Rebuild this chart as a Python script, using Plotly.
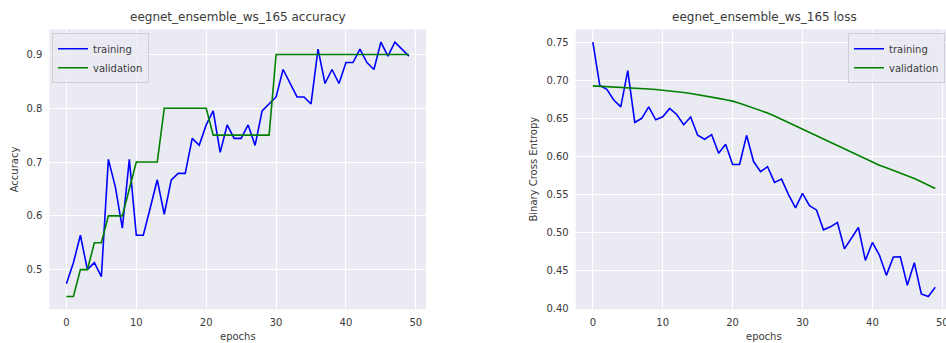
import plotly.graph_objects as go

# ---- training history ------------------------------------------------------
epochs = list(range(50))

train_acc = [
    0.474, 0.513, 0.564, 0.500, 0.513, 0.487, 0.705, 0.654, 0.577, 0.705,
    0.564, 0.564, 0.615, 0.667, 0.603, 0.667, 0.679, 0.679, 0.744, 0.731,
    0.769, 0.795, 0.718, 0.769, 0.744, 0.744, 0.769, 0.731, 0.795, 0.808,
    0.821, 0.872, 0.846, 0.821, 0.821, 0.808, 0.910, 0.846, 0.872, 0.846,
    0.885, 0.885, 0.910, 0.885, 0.872, 0.923, 0.897, 0.923, 0.910, 0.897,
]
val_acc = [
    0.45, 0.45, 0.50, 0.50, 0.55, 0.55, 0.60, 0.60, 0.60, 0.65,
    0.70, 0.70, 0.70, 0.70, 0.80, 0.80, 0.80, 0.80, 0.80, 0.80,
    0.80, 0.75, 0.75, 0.75, 0.75, 0.75, 0.75, 0.75, 0.75, 0.75,
    0.90, 0.90, 0.90, 0.90, 0.90, 0.90, 0.90, 0.90, 0.90, 0.90,
    0.90, 0.90, 0.90, 0.90, 0.90, 0.90, 0.90, 0.90, 0.90, 0.90,
]
train_loss = [
    0.7500, 0.6930, 0.6880, 0.6740, 0.6650, 0.7126, 0.6447, 0.6500, 0.6650, 0.6480,
    0.6520, 0.6630, 0.6550, 0.6416, 0.6517, 0.6277, 0.6225, 0.6286, 0.6042, 0.6160,
    0.5894, 0.5894, 0.6277, 0.5933, 0.5800, 0.5866, 0.5660, 0.5703, 0.5499, 0.5325,
    0.5516, 0.5355, 0.5299, 0.5038, 0.5077, 0.5133, 0.4789, 0.4933, 0.5068, 0.4637,
    0.4872, 0.4707, 0.4441, 0.4681, 0.4685, 0.4311, 0.4607, 0.4198, 0.4163, 0.4285,
]
val_loss = [
    0.6925, 0.6921, 0.6917, 0.6913, 0.6909, 0.6903, 0.6898, 0.6892, 0.6885, 0.6877,
    0.6869, 0.6859, 0.6849, 0.6838, 0.6826, 0.6812, 0.6795, 0.6778, 0.6761, 0.6743,
    0.6725, 0.6697, 0.6667, 0.6636, 0.6604, 0.6570, 0.6529, 0.6486, 0.6442, 0.6399,
    0.6355, 0.6311, 0.6268, 0.6224, 0.6180, 0.6137, 0.6094, 0.6051, 0.6007, 0.5963,
    0.5920, 0.5885, 0.5851, 0.5818, 0.5786, 0.5754, 0.5711, 0.5668, 0.5624, 0.5580,
]

acc_ticks = [0.5, 0.6, 0.7, 0.8, 0.9]
loss_ticks = [0.40, 0.45, 0.50, 0.55, 0.60, 0.65, 0.70, 0.75]
epoch_ticks = [0, 10, 20, 30, 40, 50]

run_name = "eegnet_ensemble_ws_165"

# ---- styling ----------------------------------------------------------------
W, H = 946, 343
BG = "#EAEAF2"
TEXT = "#3a3a3a"
FONT = "DejaVu Sans"
BLUE = "#0000FF"
GREEN = "#008000"


def px_x(p):
    return p / W


def px_y(p):
    return 1 - p / H


fig = go.Figure()

fig.add_trace(go.Scatter(x=epochs, y=train_acc, mode="lines", name="training",
                         line=dict(color=BLUE, width=1.6),
                         xaxis="x", yaxis="y", legend="legend"))
fig.add_trace(go.Scatter(x=epochs, y=val_acc, mode="lines", name="validation",
                         line=dict(color=GREEN, width=1.6),
                         xaxis="x", yaxis="y", legend="legend"))
fig.add_trace(go.Scatter(x=epochs, y=train_loss, mode="lines", name="training",
                         line=dict(color=BLUE, width=1.6),
                         xaxis="x2", yaxis="y2", legend="legend2"))
fig.add_trace(go.Scatter(x=epochs, y=val_loss, mode="lines", name="validation",
                         line=dict(color=GREEN, width=1.6),
                         xaxis="x2", yaxis="y2", legend="legend2"))

axis_common = dict(
    showgrid=True, gridcolor="white", gridwidth=1,
    zeroline=False, showline=False,
    ticks="outside", ticklen=4, tickcolor="rgba(0,0,0,0)",
    ticklabeloverflow="allow",
    tickfont=dict(family=FONT, size=10, color=TEXT),
)

# plot areas in pixels
L_LEFT, L_RIGHT = 49.3, 426.0
R_LEFT = 575.7
TOP, BOTTOM = 29.3, 309.3
x_min, x_max = -2.45, 51.45
px_per_epoch = (L_RIGHT - L_LEFT) / (x_max - x_min)
r_x_max = x_min + (W - R_LEFT) / px_per_epoch   # right panel runs off the page edge
R_CENTER = R_LEFT + (x_max - x_min) * px_per_epoch / 2

legend_style = dict(
    xanchor="left", yanchor="top",
    bgcolor="rgba(234,234,242,0.8)", bordercolor="#CFCFD6", borderwidth=1,
    font=dict(family=FONT, size=10, color=TEXT),
)

fig.update_layout(
    width=W, height=H,
    margin=dict(l=0, r=0, t=0, b=0, autoexpand=False),
    paper_bgcolor="white", plot_bgcolor=BG,
    font=dict(family=FONT, size=10, color=TEXT),
    xaxis=dict(domain=[px_x(L_LEFT), px_x(L_RIGHT)], range=[x_min, x_max],
               tickvals=epoch_ticks, anchor="y", **axis_common),
    yaxis=dict(domain=[px_y(BOTTOM), px_y(TOP)], range=[0.42635, 0.94673],
               tickvals=acc_ticks, tickformat=".1f", anchor="x", **axis_common),
    xaxis2=dict(domain=[px_x(R_LEFT), 1.0], range=[x_min, r_x_max],
                tickvals=epoch_ticks, anchor="y2", **axis_common),
    yaxis2=dict(domain=[px_y(BOTTOM), px_y(TOP)], range=[0.3996, 0.7667],
                tickvals=loss_ticks, tickformat=".2f", anchor="x2", **axis_common),
    legend=dict(x=px_x(52), y=px_y(33.3), **legend_style),
    legend2=dict(x=px_x(848), y=px_y(33.3), **legend_style),
)

L_CENTER = (L_LEFT + L_RIGHT) / 2
labels = [
    (L_CENTER, 17, f"{run_name} accuracy", 12, 0),
    (R_CENTER, 17, f"{run_name} loss", 12, 0),
    (L_CENTER, 336, "epochs", 10, 0),
    (R_CENTER, 336, "epochs", 10, 0),
    (14, (TOP + BOTTOM) / 2, "Accuracy", 10, -90),
    (533.3, (TOP + BOTTOM) / 2, "Binary Cross Entropy", 10, -90),
]
for x, y, text, size, angle in labels:
    fig.add_annotation(x=px_x(x), y=px_y(y), xref="paper", yref="paper",
                       text=text, showarrow=False, textangle=angle,
                       xanchor="center", yanchor="middle",
                       font=dict(family=FONT, size=size, color=TEXT))

fig.write_html("out.html")
